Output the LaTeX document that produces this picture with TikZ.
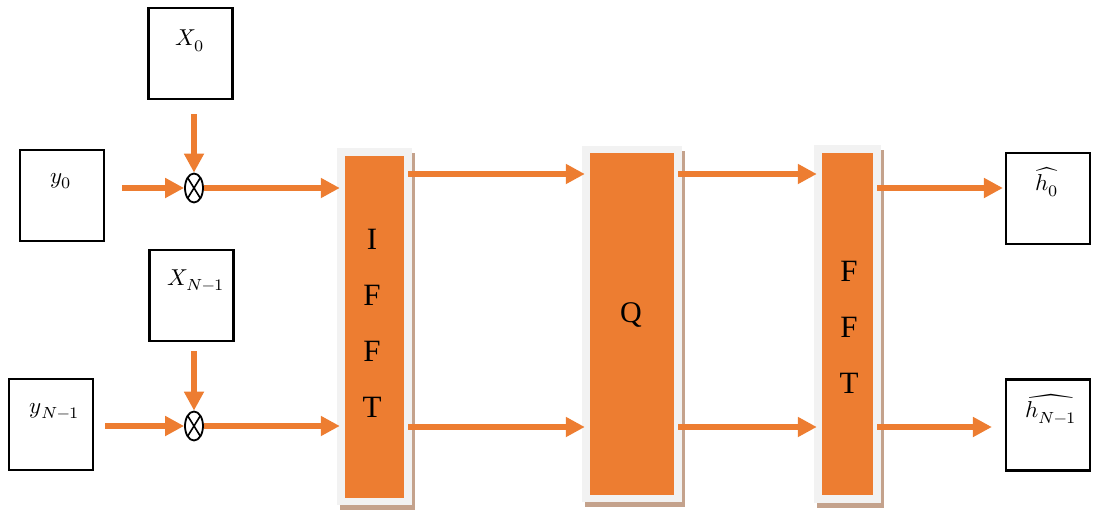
\documentclass[tikz,border=0pt]{standalone}
\usepackage{fontspec}
\usepackage{unicode-math}
\setmainfont{Liberation Serif}
\setmathfont{Latin Modern Math}
\usetikzlibrary{arrows.meta,shapes.geometric}
\definecolor{org}{HTML}{ED7D31}
\definecolor{pale}{HTML}{F2F2F2}
\definecolor{shade}{RGB}{196,162,140}
\newcommand{\bigmath}[1]{\scalebox{2.3}{$#1$}}
\begin{document}
\begin{tikzpicture}[x=1pt,y=-1pt,
  blk/.style={draw=black,line width=2.2pt,fill=white,inner sep=0pt,minimum width=84pt,minimum height=91pt},
  lbl/.style={inner sep=0pt},
  arr/.style={draw=org,line width=5.5pt,-{Triangle[length=19pt,width=19pt]}},
  mult/.style={ellipse,draw=black,line width=1.8pt,fill=white,minimum width=18pt,minimum height=29pt,inner sep=0pt,
    path picture={\draw[line width=1.6pt] (path picture bounding box.north west)--(path picture bounding box.south east)
      (path picture bounding box.north east)--(path picture bounding box.south west);}},
  outerbox/.style={fill=pale,inner sep=0pt},
  innerbox/.style={fill=org,inner sep=0pt},
  shad/.style={fill=shade,inner sep=0pt},
  big/.style={inner sep=0pt,font=\fontsize{31}{56}\selectfont,align=center}
]
\useasboundingbox (0,0) rectangle (1096,511);

% input boxes
\node[blk] (X0box) at (190.5,53.5) {};
\node[blk] (y0box) at (62,195.5) {};
\node[blk] (XNbox) at (191.5,295.5) {};
\node[blk] (yNbox) at (51,424.5) {};
\node[lbl] (X0t) at (190,41) {\bigmath{X_0}};
\node[lbl] (y0t) at (61,181) {\bigmath{y_0}};
\node[lbl] (XNt) at (196,280) {\bigmath{X_{N-1}}};
\node[lbl] (yNt) at (55,411) {\bigmath{y_{N-1}}};

% output boxes
\node[blk] (h0box) at (1048,198.5) {};
\node[blk] (hNbox) at (1048,425) {};
\node[lbl] (h0t) at (1047,182) {\bigmath{\widehat{h_0}}};
\node[lbl] (hNt) at (1051,409) {\bigmath{\widehat{h_{N-1}}}};

% multipliers
\node[mult] (m0) at (194,188) {};
\node[mult] (m1) at (194,426) {};

% blocks
\node[shad,minimum width=75pt,minimum height=357pt] (ifftsh) at (377.5,331.5) {};
\node[outerbox,minimum width=75pt,minimum height=357pt] (ifft) at (374.5,326.5) {};
\node[innerbox,minimum width=59pt,minimum height=342pt] (ifftin) at (374.5,327) {};
\node[big] (tifft) at (372,323.5) {I\\F\\F\\T};

\node[shad,minimum width=100pt,minimum height=356pt] (qsh) at (635,329) {};
\node[outerbox,minimum width=100pt,minimum height=356pt] (q) at (632,324) {};
\node[innerbox,minimum width=84pt,minimum height=342pt] (qin) at (632,324) {};
\node[inner sep=0pt,font=\fontsize{30}{36}\selectfont,anchor=base] (tq) at (631,322) {Q};

\node[shad,minimum width=67pt,minimum height=358pt] (fftsh) at (850.5,329) {};
\node[outerbox,minimum width=67pt,minimum height=358pt] (fft) at (847.5,324) {};
\node[innerbox,minimum width=51pt,minimum height=342pt] (fftin) at (847.5,324) {};
\node[big] (tfft) at (849,327.5) {F\\F\\T};

\coordinate (ra) at (0,174);
\coordinate (rb) at (0,427);
\coordinate (rc) at (0,188);

% connectors
\draw[arr,shorten <=14pt] (X0box.south -| m0) -- (m0.north);
\draw[arr,shorten <=17pt] (y0box.east |- m0) -- (m0.west);
\draw[arr,shorten >=-3pt] (m0.east) -- (m0 -| ifft.west);
\draw[arr,shorten <=9pt] (XNbox.south -| m1) -- (m1.north);
\draw[arr,shorten <=11pt] (yNbox.east |- m1) -- (m1.west);
\draw[arr,shorten >=-3pt] (m1.east) -- (m1 -| ifft.west);

\draw[arr,shorten <=4pt,shorten >=-3pt] (ifftin.east |- ra) -- (q.west |- ra);
\draw[arr,shorten <=4pt,shorten >=-3pt] (ifftin.east |- rb) -- (q.west |- rb);
\draw[arr,shorten <=4pt,shorten >=-3pt] (qin.east |- ra) -- (fft.west |- ra);
\draw[arr,shorten <=4pt,shorten >=-3pt] (qin.east |- rb) -- (fft.west |- rb);
\draw[arr,shorten <=4pt,shorten >=2pt] (fftin.east |- rc) -- (h0box.west |- rc);
\draw[arr,shorten <=4pt,shorten >=13pt] (fftin.east |- rb) -- (hNbox.west |- rb);
\end{tikzpicture}
\end{document}
